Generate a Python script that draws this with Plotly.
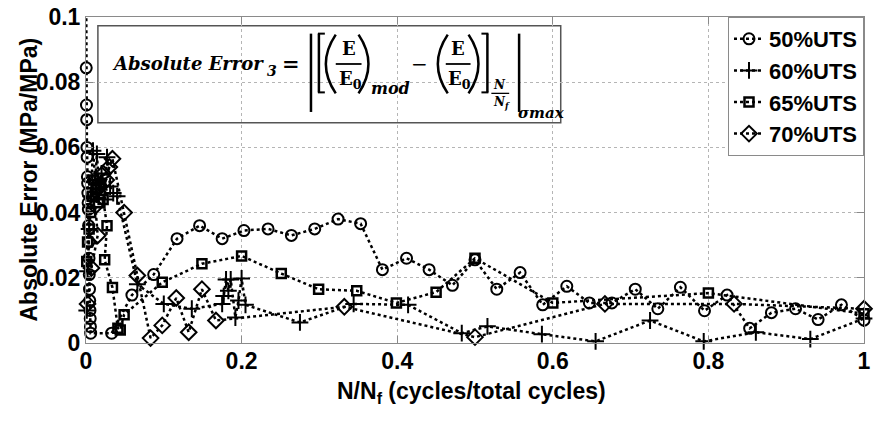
import plotly.graph_objects as go

# ---------------- data ----------------
x_50 = [0.0000, 0.0003, 0.0006, 0.0009, 0.0012, 0.0015, 0.0018, 0.0021, 0.0024, 0.0027,
        0.0030, 0.0033, 0.0036, 0.0039, 0.0042, 0.0045, 0.0048, 0.0051, 0.0054, 0.0057,
        0.0060, 0.033, 0.059, 0.087, 0.117, 0.146, 0.175, 0.203, 0.234, 0.264, 0.294,
        0.324, 0.353, 0.381, 0.412, 0.441, 0.471, 0.500, 0.528, 0.558, 0.587, 0.618,
        0.647, 0.676, 0.706, 0.735, 0.764, 0.795, 0.824, 0.853, 0.881, 0.912, 0.941,
        0.971, 1.000]
y_50 = [0.118, 0.0844, 0.073, 0.0685, 0.060, 0.057, 0.051, 0.049, 0.046, 0.043,
        0.041, 0.036, 0.031, 0.026, 0.021, 0.0165, 0.013, 0.010, 0.0075, 0.005,
        0.003, 0.003, 0.0147, 0.021, 0.032, 0.036, 0.032, 0.0345, 0.035, 0.033, 0.035,
        0.038, 0.0366, 0.0225, 0.026, 0.0225, 0.0177, 0.0255, 0.0165, 0.0216, 0.0117, 0.0174,
        0.0123, 0.0123, 0.0165, 0.0105, 0.0171, 0.0099, 0.0147, 0.0045, 0.0093, 0.0105, 0.0072,
        0.0117, 0.0070]

x_60 = [0.001, 0.002, 0.004, 0.006, 0.009, 0.012, 0.014, 0.017, 0.020, 0.024, 0.027,
        0.031, 0.035, 0.040, 0.066, 0.100, 0.136, 0.175, 0.177, 0.180, 0.183, 0.186,
        0.192, 0.196, 0.200, 0.205, 0.275, 0.344, 0.414, 0.483, 0.516, 0.586, 0.655,
        0.725, 0.794, 0.861, 0.931, 1.000]
y_60 = [0.010, 0.022, 0.035, 0.045, 0.059, 0.050, 0.058, 0.047, 0.052, 0.044, 0.057,
        0.048, 0.046, 0.045, 0.018, 0.012, 0.0105, 0.012, 0.0144, 0.0195, 0.016, 0.0195,
        0.0078, 0.013, 0.0198, 0.0117, 0.0063, 0.012, 0.0117, 0.003, 0.0051, 0.0027, 0.0005,
        0.0069, 0.0005, 0.0033, 0.0012, 0.0075]

x_65 = [0.001, 0.002, 0.004, 0.006, 0.008, 0.010, 0.013, 0.016, 0.019, 0.022, 0.027,
        0.024, 0.034, 0.041, 0.044, 0.049, 0.098, 0.149, 0.200, 0.251, 0.299, 0.348,
        0.399, 0.450, 0.500, 0.600, 0.800, 1.000]
y_65 = [0.025, 0.031, 0.035, 0.040, 0.045, 0.050, 0.047, 0.043, 0.049, 0.044, 0.036,
        0.0255, 0.017, 0.0045, 0.004, 0.0087, 0.0186, 0.0243, 0.0267, 0.0213, 0.0165, 0.016,
        0.0123, 0.0156, 0.026, 0.0123, 0.0153, 0.009]

x_70 = [0.002, 0.007, 0.015, 0.012, 0.018, 0.022, 0.026, 0.030, 0.034, 0.049, 0.066,
        0.083, 0.098, 0.116, 0.132, 0.149, 0.167, 0.332, 0.500, 0.667, 0.833, 1.000]
y_70 = [0.012, 0.023, 0.033, 0.042, 0.048, 0.052, 0.050, 0.054, 0.0565, 0.040, 0.0207,
        0.0015, 0.0054, 0.0138, 0.0033, 0.0165, 0.0069, 0.0111, 0.0018, 0.012, 0.012, 0.0105]

series_names = ["50%UTS", "60%UTS", "65%UTS", "70%UTS"]
x_ticks = [0, 0.2, 0.4, 0.6, 0.8, 1.0]
x_tick_text = ["0", "0.2", "0.4", "0.6", "0.8", "1"]
y_ticks = [0, 0.02, 0.04, 0.06, 0.08, 0.1]
y_tick_text = ["0", "0.02", "0.04", "0.06", "0.08", "0.1"]

# ---------------- figure ----------------
W, H = 875, 421
ML, MR, MT, MB = 86, 4, 10, 78
PW, PH = W - ML - MR, H - MT - MB


def px(x):
    return (x - ML) / PW


def py(y):
    return (MT + PH - y) / PH


styles = [
    dict(symbol="circle-open", size=11, lw=2),
    dict(symbol="cross-thin-open", size=12, lw=2),
    dict(symbol="square-open", size=9, lw=2.5),
    dict(symbol="diamond-open", size=12, lw=2),
]
xs = [x_50, x_60, x_65, x_70]
ys = [y_50, y_60, y_65, y_70]

fig = go.Figure()
for name, xv, yv, st in zip(series_names, xs, ys, styles):
    fig.add_trace(go.Scatter(
        x=xv, y=yv, name=name, mode="lines+markers", cliponaxis=False,
        line=dict(color="black", width=2.5, dash="dot"),
        marker=dict(symbol=st["symbol"], size=st["size"], color="black",
                    line=dict(width=st["lw"], color="black")),
    ))

SANS = "Liberation Sans, Arial, sans-serif"
axis_font = dict(family=SANS, size=23, color="black", weight="bold")
common = dict(showline=True, linecolor="#8a8a8a", linewidth=1, mirror="ticks",
              ticks="inside", ticklen=7, tickcolor="#8a8a8a",
              showgrid=True, gridcolor="#b5b5b5", griddash="dot", gridwidth=1,
              zeroline=False, tickfont=axis_font, ticklabeloverflow="allow")
fig.update_xaxes(range=[0, 1], tickvals=x_ticks, ticktext=x_tick_text,
                 ticklabelstandoff=-3, **common)
fig.update_yaxes(range=[0, 0.1], tickvals=y_ticks, ticktext=y_tick_text, **common)

annotations = [
    dict(text="Absolute Error (MPa/MPa)", x=px(28), y=0.5, textangle=-90,
         xanchor="center", yanchor="middle",
         font=dict(family=SANS, size=23, color="black", weight="bold")),
    dict(text="N/N<sub>f</sub> (cycles/total cycles)", x=0.4955, y=py(394),
         xanchor="center", yanchor="middle",
         font=dict(family=SANS, size=23, color="black", weight="bold")),
]

SERIF = "DejaVu Serif, Liberation Serif, serif"


def ftxt(text, x, y, size, italic=True, bold=True, xanchor="center"):
    return dict(text=text, x=px(x), y=py(y), xanchor=xanchor, yanchor="middle",
                font=dict(family=SERIF, size=size, color="black",
                          weight="bold" if bold else "normal",
                          style="italic" if italic else "normal"))


annotations += [
    ftxt("Absolute Error", 110, 57, 18, xanchor="left"),
    ftxt("3", 274, 65, 14),
    ftxt("=", 293, 57, 21, italic=False),
    ftxt("E", 351, 42, 18, italic=False),
    ftxt("E<sub>0</sub>", 353, 74, 18, italic=False),
    ftxt("mod", 393, 83, 16),
    ftxt("\u2212", 422, 58, 20, italic=False, bold=False),
    ftxt("E", 461, 42, 18, italic=False),
    ftxt("E<sub>0</sub>", 463, 74, 18, italic=False),
    ftxt("N", 503, 79, 12),
    ftxt("N<sub>f</sub>", 505, 98, 12),
    ftxt("\u03c3max", 546, 108, 15),
]
for a in annotations:
    a.setdefault("xref", "paper")
    a.setdefault("yref", "paper")
    a["showarrow"] = False

shapes = [
    # formula box
    dict(type="rect", xref="paper", yref="paper", x0=px(98), x1=px(565), y0=py(118), y1=py(19),
         line=dict(color="#555555", width=1.5), fillcolor="white", layer="between"),
]


def seg(x0, y0, x1, y1, w=2.5):
    return dict(type="line", xref="paper", yref="paper", x0=px(x0), y0=py(y0),
                x1=px(x1), y1=py(y1), line=dict(color="black", width=w), layer="above")


def curve(x0, y0, cx, cy, x1, y1, w=2.5):
    path = f"M {px(x0)},{py(y0)} Q {px(cx)},{py(cy)} {px(x1)},{py(y1)}"
    return dict(type="path", xref="paper", yref="paper", path=path,
                line=dict(color="black", width=w), layer="above")


shapes += [
    seg(313, 27, 313, 107),            # left |
    seg(321, 27, 321, 87),             # [
    seg(320, 27, 327, 27, 2), seg(320, 87, 327, 87, 2),
    curve(338, 28, 318, 58, 338, 88),  # (
    seg(338, 58, 364, 58, 1.8),        # fraction bar
    curve(361, 28, 381, 58, 361, 88),  # )
    curve(451, 28, 431, 58, 451, 88),  # (
    seg(449, 58, 474, 58, 1.8),        # fraction bar
    curve(472, 28, 492, 58, 472, 88),  # )
    seg(491, 27, 491, 87),             # ]
    seg(485, 27, 492, 27, 2), seg(485, 87, 492, 87, 2),
    seg(495, 88, 513, 88, 1.3),        # N/Nf bar
    seg(523, 27, 523, 107),            # right |
]

fig.update_layout(
    width=W, height=H, margin=dict(l=ML, r=MR, t=MT, b=MB),
    paper_bgcolor="white", plot_bgcolor="white",
    annotations=annotations, shapes=shapes,
    legend=dict(x=1, y=1, xanchor="right", yanchor="top", bgcolor="white",
                bordercolor="#8a8a8a", borderwidth=1, itemwidth=30, tracegroupgap=0,
                font=dict(family=SANS, size=22, color="black", weight="bold")),
)

fig.write_html("out.html")
